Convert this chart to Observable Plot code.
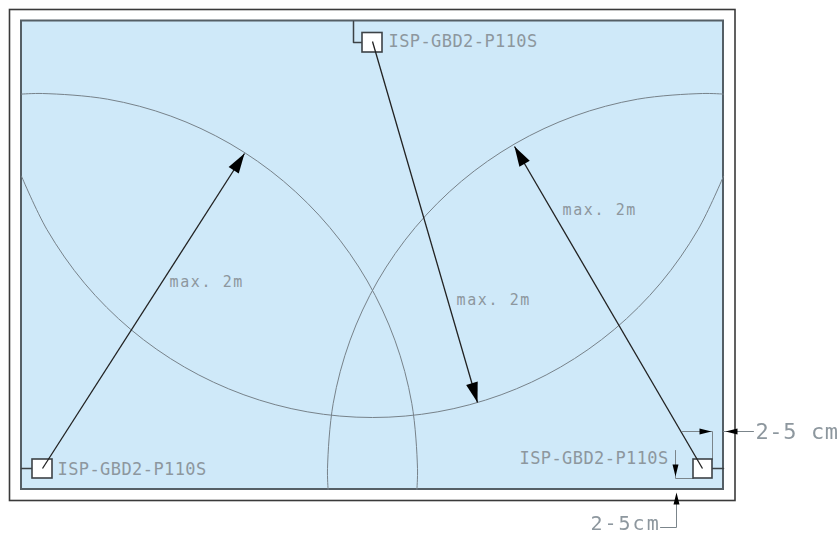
<!DOCTYPE html>
<html><head><meta charset="utf-8">
<script src="https://cdn.jsdelivr.net/npm/d3@7"></script>
<script src="https://cdn.jsdelivr.net/npm/@observablehq/plot@0.6"></script>
<style>
html,body{margin:0;padding:0;background:#fff}
svg{display:block;filter:blur(0.35px)}
.lab-sensor{letter-spacing:0.42px}
.lab-reach{letter-spacing:1.6px}
.lab-dim{letter-spacing:0.6px}
.lab-dim-low{letter-spacing:2px}
</style></head><body>
<div id="chart"></div>
<script>
// Plan coordinates
const walls = [
  {x1:9.5, x2:735, y1:9.5, y2:500.5, fill:"#ffffff", stroke:"#3a3a3a", w:1.6},
  {x1:21, x2:723, y1:20.5, y2:489, fill:"#cfe9f9", stroke:"#555f66", w:2}
];
const sensors = [
  {x1:362, x2:382, y1:32.5, y2:52},
  {x1:32, x2:52, y1:459, y2:478},
  {x1:693, x2:712, y1:459, y2:478}
];
const leftArc = [[21,93.6],[42,93],[107.1,98.7],[170.3,115.6],[229.5,143.2],[283,180.7],[329.3,227],[366.8,280.5],[394.4,339.7],[411.3,402.9],[417,468],[416.4,488.9]];
const topArc = [[21,175.7],[46.4,229],[84,282.7],[130.3,329],[184,366.6],[243.4,394.3],[306.7,411.3],[372,417],[437.3,411.3],[500.6,394.3],[560,366.6],[613.7,329],[660,282.7],[697.6,229],[723,175.7]];
const rightArc = [[723,93.6],[702,93],[636.9,98.7],[573.7,115.6],[514.5,143.2],[461,180.7],[414.7,227],[377.2,280.5],[349.6,339.7],[332.7,402.9],[327,468],[327.6,488.9]];
const reachLines = [
  {x1:42, y1:468, x2:244, y2:153},
  {x1:372, y1:41, x2:477, y2:402},
  {x1:702, y1:468, x2:514, y2:146}
];
const wires = [
  [[353,21],[353,42],[362,42]],
  [[21,468],[32,468]],
  [[712,468],[723,468]]
];
const dimLines = [
  [[682,431],[712,431],[712,459]],
  [[753,431],[723,431]],
  [[675,450],[675,478],[693,478]],
  [[660,527],[676,527],[676,500]]
];
const bigHeads = [
  {x:244, y:153, a:32.7},
  {x:477, y:402, a:163.8},
  {x:514, y:146, a:-30.3}
];
const smallHeads = [
  {x:711, y:431, a:90},
  {x:725, y:431, a:-90},
  {x:675, y:476, a:180},
  {x:676, y:492, a:0}
];
const sensorLabels = [
  {x:388, y:41, t:"ISP-GBD2-P110S"},
  {x:57, y:469, t:"ISP-GBD2-P110S"},
  {x:519, y:458, t:"ISP-GBD2-P110S"}
];
const reachLabels = [
  {x:169, y:282, t:"max. 2m"},
  {x:456, y:300, t:"max. 2m"},
  {x:562, y:210, t:"max. 2m"}
];
const dimLabelSide = [{x:755, y:431, t:"2-5 cm"}];
const dimLabelBottom = [{x:590, y:523.5, t:"2-5cm"}];

const headShape = (l, w) => ({draw(c){c.moveTo(0,0);c.lineTo(-w,l);c.lineTo(w,l);c.closePath();}});
const textColor = "#8d979e";
const font = "DejaVu Sans Mono";

const plot = Plot.plot({
  width: 839, height: 534,
  marginTop: 0, marginRight: 0, marginBottom: 0, marginLeft: 0,
  x: {domain: [0, 839], range: [0, 839], axis: null},
  y: {domain: [0, 534], range: [0, 534], axis: null},
  marks: [
    Plot.rect(walls, {x1:"x1", x2:"x2", y1:"y1", y2:"y2", fill:"fill", stroke:"stroke", strokeWidth:"w"}),
    ...[leftArc, topArc, rightArc].map(a => Plot.line(a, {curve:"catmull-rom", stroke:"#77828a", strokeWidth:1})),
    ...wires.map(a => Plot.line(a, {stroke:"#3c4246", strokeWidth:1.5})),
    ...dimLines.map(a => Plot.line(a, {stroke:"#7b858b", strokeWidth:1})),
    Plot.rect(sensors, {x1:"x1", x2:"x2", y1:"y1", y2:"y2", fill:"#fff", stroke:"#3c4246", strokeWidth:1.6}),
    Plot.link(reachLines, {x1:"x1", y1:"y1", x2:"x2", y2:"y2", stroke:"#222", strokeWidth:1.3}),
    Plot.dot(bigHeads, {x:"x", y:"y", rotate:"a", r:5, fill:"#000", stroke:null, symbol:headShape(20,6)}),
    Plot.dot(smallHeads, {x:"x", y:"y", rotate:"a", r:3, fill:"#000", stroke:null, symbol:headShape(12,3)}),
    Plot.text(sensorLabels, {x:"x", y:"y", text:"t", textAnchor:"start", lineAnchor:"middle", fontFamily:font, fontSize:17, fill:textColor, className:"lab-sensor"}),
    Plot.text(reachLabels, {x:"x", y:"y", text:"t", textAnchor:"start", lineAnchor:"middle", fontFamily:font, fontSize:15, fill:textColor, className:"lab-reach"}),
    Plot.text(dimLabelSide, {x:"x", y:"y", text:"t", textAnchor:"start", lineAnchor:"middle", fontFamily:font, fontSize:22, fill:textColor, className:"lab-dim"}),
    Plot.text(dimLabelBottom, {x:"x", y:"y", text:"t", textAnchor:"start", lineAnchor:"middle", fontFamily:font, fontSize:20, fill:textColor, className:"lab-dim-low"})
  ]
});
document.getElementById("chart").append(plot);
</script>
</body></html>
